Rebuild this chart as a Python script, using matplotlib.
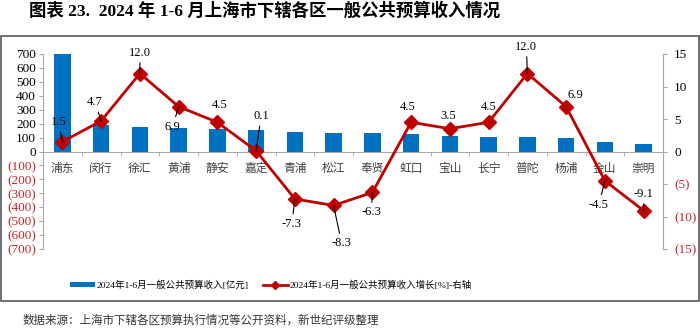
import matplotlib
matplotlib.use("Agg")
import matplotlib.pyplot as plt
from matplotlib.patches import Rectangle, Patch
from matplotlib.lines import Line2D
from matplotlib.ticker import MultipleLocator, FixedLocator, FuncFormatter

plt.rcParams['font.family'] = ['Liberation Serif', 'Noto Sans CJK SC', 'DejaVu Sans']

districts = ['浦东', '闵行', '徐汇', '黄浦', '静安', '嘉定', '青浦', '松江',
             '奉贤', '虹口', '宝山', '长宁', '普陀', '杨浦', '金山', '崇明']
revenue = [700, 193, 174, 170, 162, 157, 138, 130, 130, 126, 108, 106, 101, 94, 65, 55]
growth = [1.5, 4.7, 12.0, 6.9, 4.5, 0.1, -7.3, -8.3, -6.3, 4.5, 3.5, 4.5, 12.0, 6.9, -4.5, -9.1]
bar_label = '2024年1-6月一般公共预算收入[亿元]'
line_label = '2024年1-6月一般公共预算收入增长[%]-右轴'
title = '图表 23.  2024 年 1-6 月上海市下辖各区一般公共预算收入情况'
source = '数据来源：上海市下辖各区预算执行情况等公开资料，新世纪评级整理'

# label offsets (pixels) and whether a leader line is drawn
label_offsets = [(-4, 20), (-6, 19), (0, 21), (-6, -20), (2, 17), (5, 35), (-3, -25), (8, -38),
                 (-1, -20), (-4, 15), (-2, 13), (0, 15), (-1, 27), (9, 12), (-6, -24), (0, 17)]
leaders = [True, True, True, True, False, True, True, True,
           True, False, False, False, True, False, True, True]

BLUE = '#0070C0'
RED = '#C00000'
GRAY = '#A6A6A6'
NEG = '#C0262D'

fig = plt.figure(figsize=(7.0, 3.35), dpi=100)
ax = fig.add_axes([43/700, 1-249/335, 620/700, 195/335])
ax2 = ax.twinx()

x = list(range(len(districts)))
ax.bar(x, revenue, width=0.42, color=BLUE, zorder=2)
ax.set_xlim(-0.5, len(districts)-0.5)
ax.set_ylim(-700, 700)
ax2.set_ylim(-15, 15)

for s in ['top', 'right']:
    ax.spines[s].set_visible(False)
ax.spines['left'].set_color(GRAY)
ax.spines['bottom'].set_position(('data', 0))
ax.spines['bottom'].set_color(GRAY)
for s in ['top', 'left', 'bottom']:
    ax2.spines[s].set_visible(False)
ax2.spines['right'].set_color(GRAY)

fmt = FuncFormatter(lambda v, p: f'({int(abs(v))})' if v < 0 else f'{int(v)}')
ax.yaxis.set_major_locator(MultipleLocator(100))
ax.yaxis.set_major_formatter(fmt)
ax.tick_params(axis='y', length=3, color=GRAY, labelsize=9.5, pad=2)

ax.set_xticks(x)
ax.set_xticklabels(districts, fontsize=8.5, color='#404040')
ax.xaxis.set_minor_locator(FixedLocator([i + 0.5 for i in range(-1, len(districts))]))
ax.tick_params(axis='x', which='major', length=0, pad=8)
ax.tick_params(axis='x', which='minor', length=3, color=GRAY)

ax2.yaxis.set_major_locator(MultipleLocator(5))
ax2.yaxis.set_major_formatter(fmt)
ax2.tick_params(axis='y', length=3, color=GRAY, labelsize=9.5, pad=5)

fig.canvas.draw()
for lab in list(ax.get_yticklabels()) + list(ax2.get_yticklabels()):
    if lab.get_text().startswith('('):
        lab.set_color(NEG)

ax2.plot(x, growth, color=RED, lw=2, marker='D', markersize=7, zorder=3)

for xi, g, off, ld in zip(x, growth, label_offsets, leaders):
    kw = {}
    if ld:
        kw['arrowprops'] = dict(arrowstyle='-', color='black', lw=0.8, shrinkA=1, shrinkB=0)
    ax2.annotate(f'{g:.1f}', xy=(xi, g), xytext=off, textcoords='offset pixels',
                 ha='center', va='center', fontsize=9, color='black', **kw)

leg_kw = dict(frameon=False, fontsize=6.8, handlelength=2.6, handleheight=0.5,
              handletextpad=0.2, borderpad=0, borderaxespad=0, loc='center left')
fig.legend([Patch(facecolor=BLUE, edgecolor='none')], [bar_label],
           bbox_to_anchor=(70/700, 1-285/335), **leg_kw)
fig.legend([Line2D([], [], color=RED, lw=2, marker='D', markersize=4)], [line_label],
           bbox_to_anchor=(263/700, 1-285/335), **leg_kw)

fig.patches.append(Rectangle((0.5/700, 1-301/335), 698.5/700, 265/335, transform=fig.transFigure,
                             fill=False, edgecolor='#595959', lw=1.2))

fig.text(29/700, 1-11/335, title, fontsize=12.5, fontweight='bold', ha='left', va='center')
fig.text(23/700, 1-321/335, source, fontsize=8.3, ha='left', va='center', color='#333333')

fig.savefig('out.png', dpi=100)
